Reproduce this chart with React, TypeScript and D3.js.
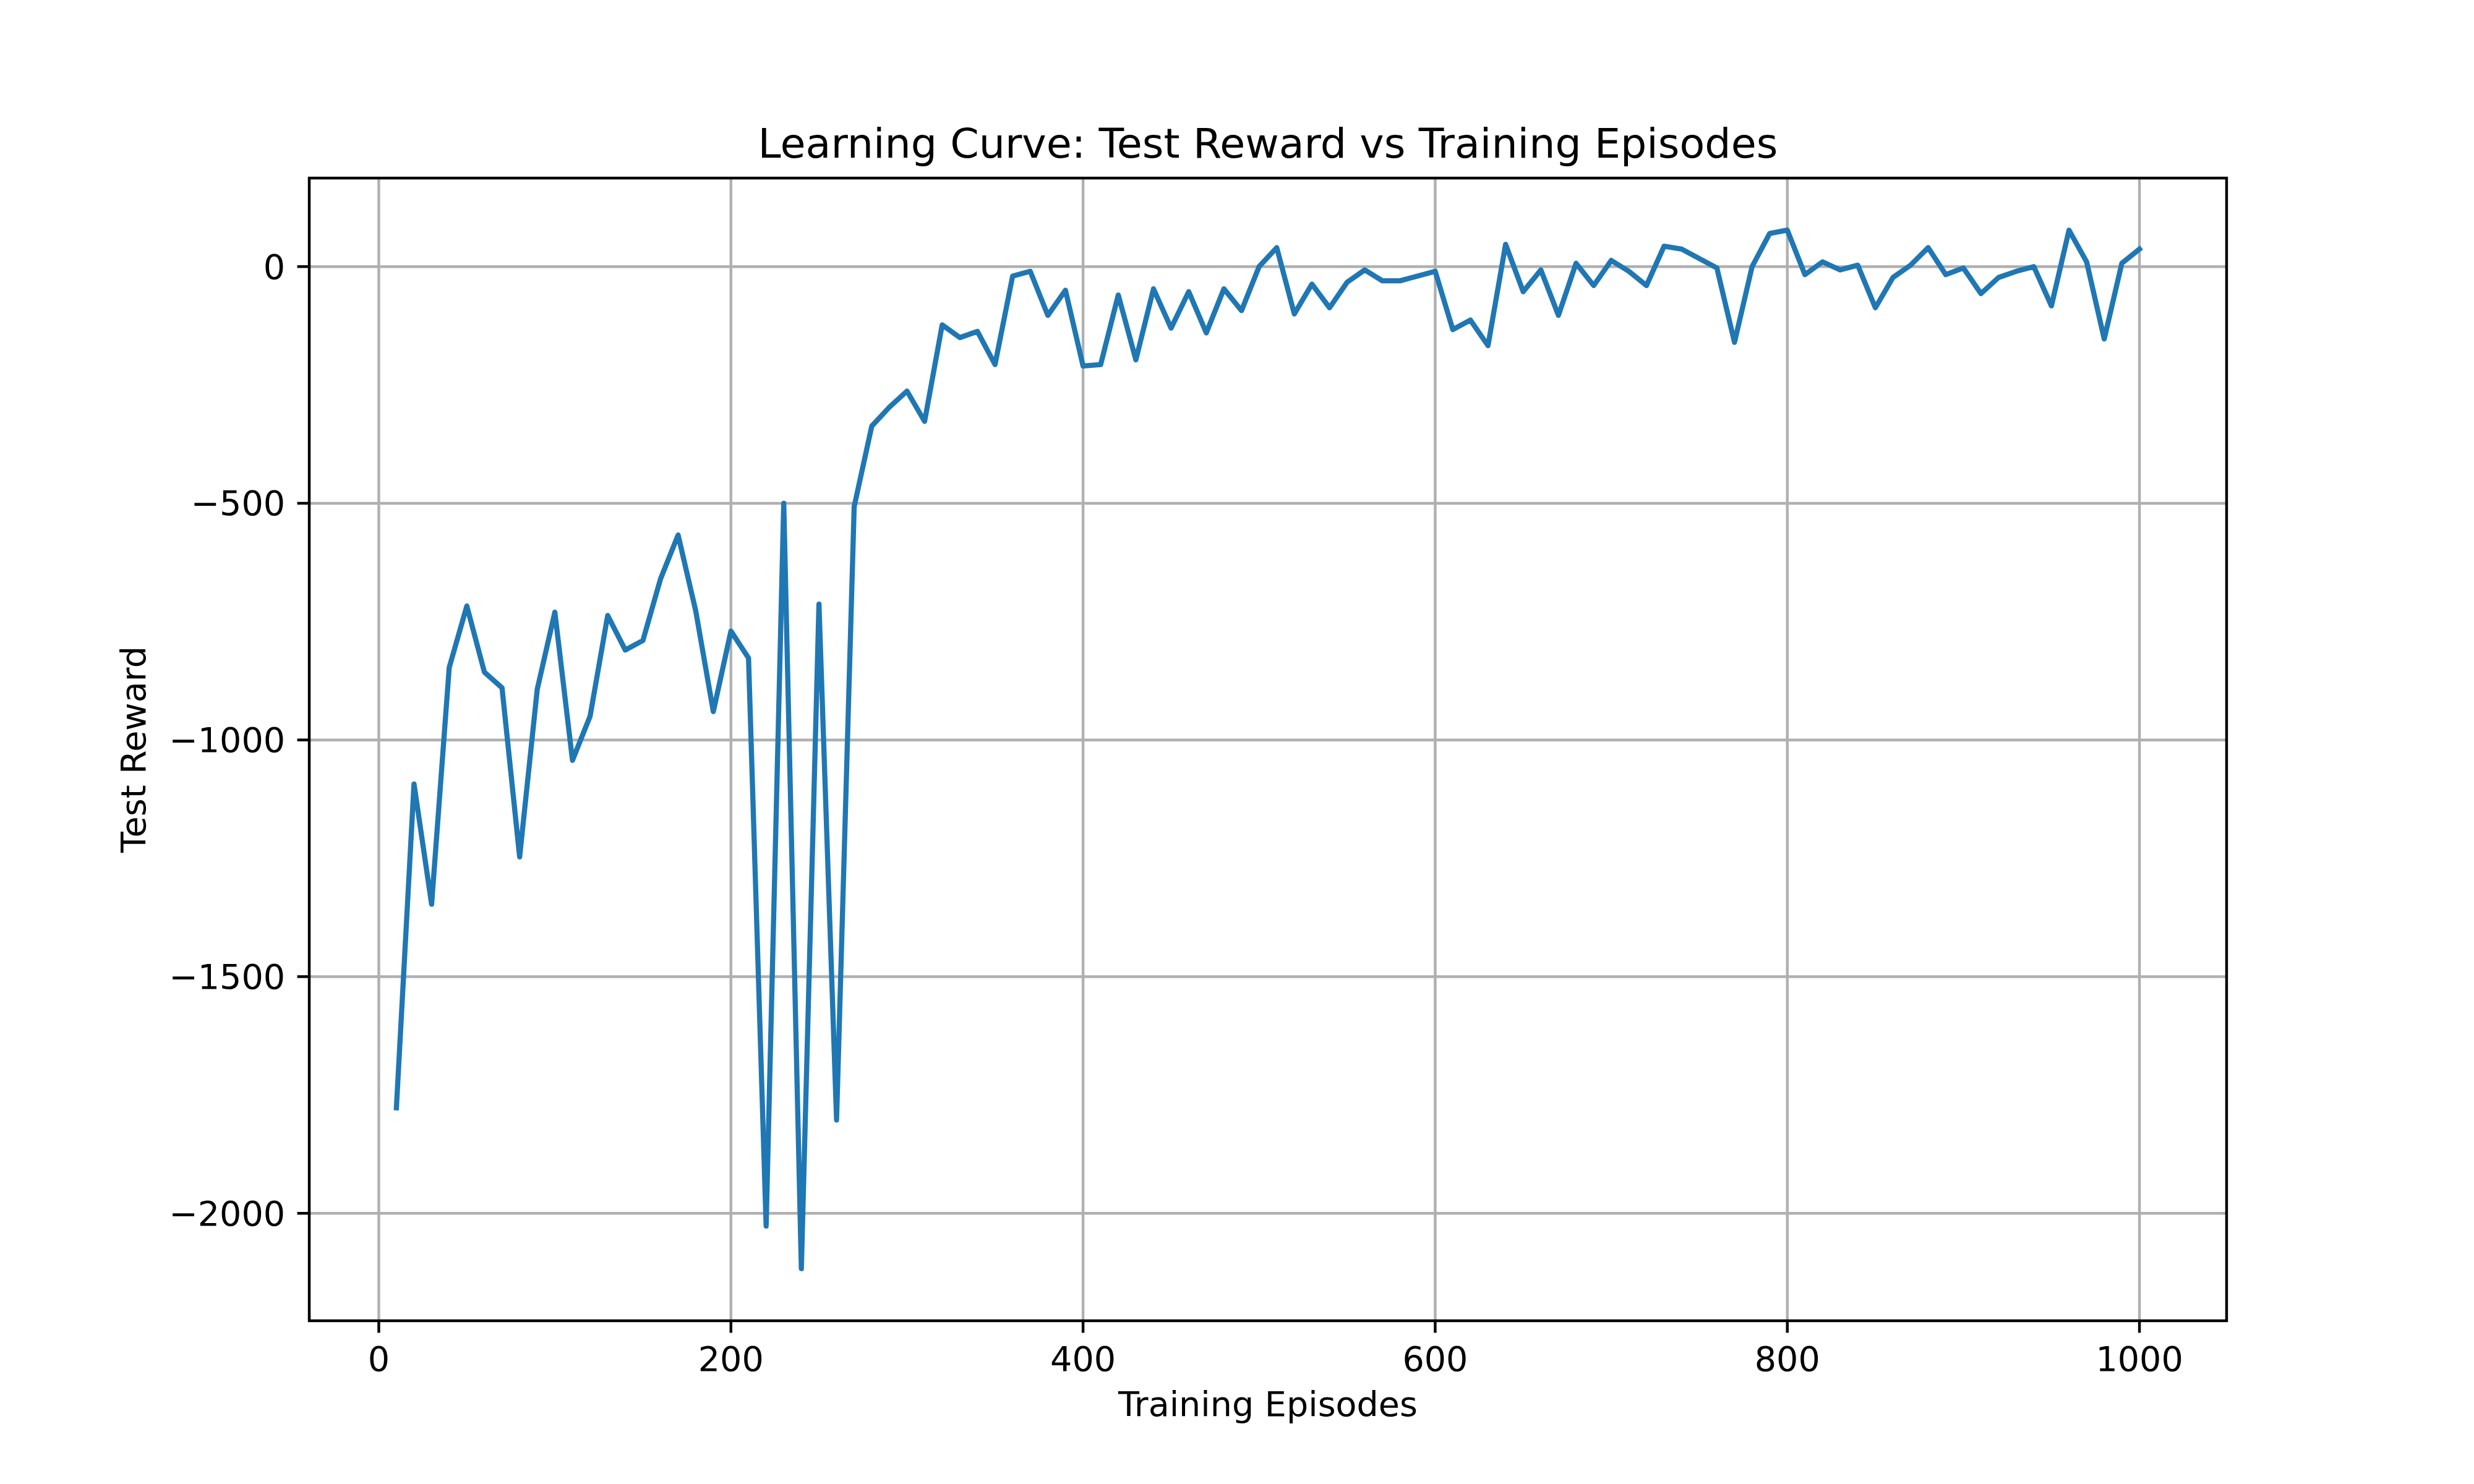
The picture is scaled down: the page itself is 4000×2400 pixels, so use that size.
import React from 'react';
import * as d3 from 'd3';

const episodes: number[] = d3.range(10, 1001, 10);
const rewards: number[] = [
  -1777, -1093, -1347, -847, -717, -857, -890, -1247, -893, -730,
  -1043, -950, -737, -810, -790, -660, -567, -727, -940, -770,
  -827, -2027, -500, -2117, -713, -1803, -507, -337, -297, -263,
  -327, -123, -150, -137, -207, -20, -10, -103, -50, -210,
  -207, -60, -197, -47, -130, -53, -140, -47, -93, 0,
  40, -100, -37, -87, -33, -7, -30, -30, -20, -10,
  -133, -113, -167, 47, -53, -7, -103, 7, -40, 13,
  -10, -40, 43, 37, 17, -3, -160, 0, 70, 77,
  -17, 10, -7, 3, -87, -23, 3, 40, -17, -3,
  -57, -23, -10, 0, -83, 77, 10, -153, 7, 37,
];
const xTicks = [0, 200, 400, 600, 800, 1000];
const yTicks = [0, -500, -1000, -1500, -2000];

const W = 4000, H = 2400;
const L = 500, R = 3600, T = 288, B = 2136;
const font = 'DejaVu Sans';
const pt = 400 / 72;

export default function App() {
  const x = d3.scaleLinear().domain([-39.5, 1049.5]).range([L, R]);
  const y = d3.scaleLinear().domain([-2227, 187]).range([B, T]);
  const line = d3.line<number>().x((_, i) => x(episodes[i])).y((d) => y(d));
  const fmt = (v: number) => (v < 0 ? '\u2212' + Math.abs(v) : String(v));
  const tick = 3.5 * pt;
  return (
    <svg width={W} height={H} style={{ position: 'absolute', left: 0, top: 0, background: '#fff' }} fontFamily={font}>
      {xTicks.map((t) => (
        <g key={'x' + t}>
          <line x1={x(t)} x2={x(t)} y1={T} y2={B} stroke="#b0b0b0" strokeWidth={0.8 * pt} />
          <line x1={x(t)} x2={x(t)} y1={B} y2={B + tick} stroke="#000" strokeWidth={0.8 * pt} />
          <text x={x(t)} y={B + tick + 3.5 * pt} dy="0.76em" textAnchor="middle" fontSize={10 * pt}>{fmt(t)}</text>
        </g>
      ))}
      {yTicks.map((t) => (
        <g key={'y' + t}>
          <line x1={L} x2={R} y1={y(t)} y2={y(t)} stroke="#b0b0b0" strokeWidth={0.8 * pt} />
          <line x1={L - tick} x2={L} y1={y(t)} y2={y(t)} stroke="#000" strokeWidth={0.8 * pt} />
          <text x={L - tick - 3.5 * pt} y={y(t)} dy="0.35em" textAnchor="end" fontSize={10 * pt}>{fmt(t)}</text>
        </g>
      ))}
      <path d={line(rewards) || ''} fill="none" stroke="#1f77b4" strokeWidth={1.5 * pt} strokeLinejoin="round" strokeLinecap="square" />
      <rect x={L} y={T} width={R - L} height={B - T} fill="none" stroke="#000" strokeWidth={0.8 * pt} />
      <text x={(L + R) / 2} y={T - 6 * pt} textAnchor="middle" fontSize={12 * pt}>Learning Curve: Test Reward vs Training Episodes</text>
      <text x={(L + R) / 2} y={2290} textAnchor="middle" fontSize={10 * pt}>Training Episodes</text>
      <text transform={`translate(235,${(T + B) / 2}) rotate(-90)`} textAnchor="middle" fontSize={10 * pt}>Test Reward</text>
    </svg>
  );
}
